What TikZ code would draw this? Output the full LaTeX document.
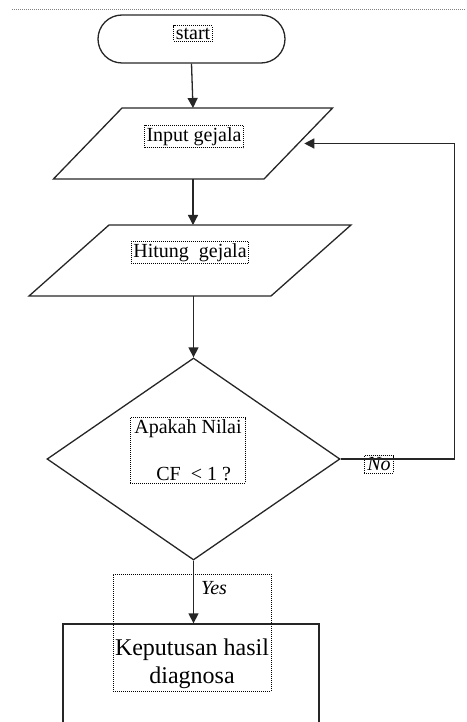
\documentclass[tikz,border=0pt]{standalone}
\usepackage{fontspec}
\setmainfont{Liberation Serif}
\usetikzlibrary{shapes.geometric,arrows.meta}

\begin{document}
\begin{tikzpicture}[x = 1pt, y = -1pt,
    line width = 1.3pt, color = black!85,
    font = \rmfamily\fontsize{20}{24}\selectfont,
    arr/.style = {-{Triangle[length = 10pt, width = 10pt]}},
    txtbox/.style = {draw, color = black, line width = 0.9pt, dash pattern = on 1pt off 1pt, inner sep = 2pt},
    io/.style = {draw, trapezium, inner ysep = 35.5pt, outer sep = 0pt}]

    \useasboundingbox (0,0) rectangle (466,722);
    \clip (0,0) rectangle (466,722);

    \draw[color = gray, line width = 0.8pt, dash pattern = on 1pt off 1pt] (12,9) -- (466,9);

    % Shapes
    \node[draw, rounded corners = 24pt, minimum width = 187pt, minimum height = 48pt] (start) at (191.5,39) {};
    \node[io, inner xsep = 71pt, trapezium left angle = 46, trapezium right angle = 134] (input) at (193,143.5) {};
    \node[io, inner xsep = 81pt, trapezium left angle = 41.6, trapezium right angle = 138.4] (hitung) at (190,260.5) {};
    \node[draw, diamond, minimum width = 293pt, minimum height = 202pt, inner sep = 0pt] (decide) at (193.5,459) {};
    \node[draw, minimum width = 256pt, minimum height = 156pt] (result) at (191,702) {};

    % Texts
    \node[txtbox] (starttxt) at (193,33.5) {start};
    \node[txtbox] (inputtxt) at (194,136.5) {Input gejala};
    \node[txtbox] (hitungtxt) at (190,252.5) {Hitung~~gejala};
    \node[txtbox, align = left, inner xsep = 4pt] (decidetxt) at (188,450.5)
        {Apakah Nilai\\[23pt]\hspace*{22pt}CF~~< 1 ?};
    \node[txtbox, inner xsep = 3pt] (no) at (379,464.5) {\textit{No}};
    \node[txtbox, minimum width = 158pt, minimum height = 117pt] (yesbox) at (192,632.5) {};
    \node[text = black] (yes) at (214,588) {\textit{Yes}};
    \node[text = black, align = center, font = \rmfamily\fontsize{24}{28}\selectfont] (resulttxt) at (192,664)
        {Keputusan hasil\\diagnosa};

    % Flow
    \draw[arr] (start.south) -- (input.north);
    \draw[arr] (input.south) -- (input.south |- hitung.north);
    \draw[arr] (decide.north |- hitung.south) -- (decide.north);
    \draw[arr] (decide.east) -- ++(114,0) |- ([xshift = 6pt]input.east);
    \draw[arr] (decide.south) -- (decide.south |- result.north);

\end{tikzpicture}
\end{document}
